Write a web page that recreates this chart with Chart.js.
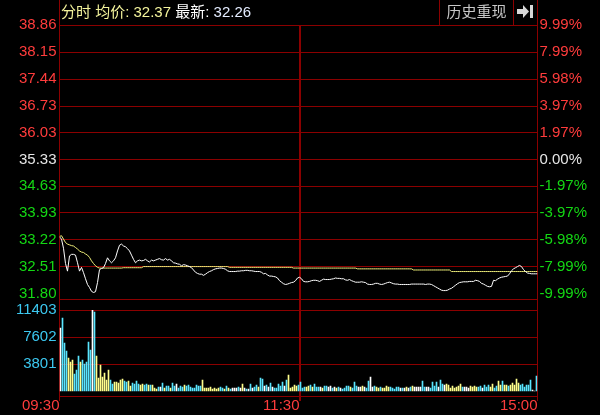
<!DOCTYPE html>
<html lang="zh">
<head>
    <meta charset="UTF-8">
    <title>分时</title>
    <script src="https://cdn.jsdelivr.net/npm/chart.js"></script>
    <style>
        html, body { margin: 0; padding: 0; background: #000; }
        #wrap { position: relative; width: 600px; height: 415px; background: #000; overflow: hidden; }
        #priceChart { position: absolute; left: 0; top: 0; }
        #volChart { position: absolute; left: 0; top: 300px; }
        #header {
            position: absolute; left: 61px; top: 0; height: 25px; line-height: 26px;
            font: 15px "Liberation Sans", "Noto Sans CJK SC", sans-serif; white-space: pre;
        }
        #header .y { color: #f4f49c; }
        #header .w { color: #ffffff; }
        #header .b { color: #e4ecff; }
        #replay {
            position: absolute; left: 439px; top: 0; width: 73px; height: 25px; line-height: 26px;
            border-left: 1px solid #8b0000; border-right: 1px solid #8b0000;
            color: #c8c8c8; text-align: center; font: 15px "Noto Sans CJK SC", sans-serif;
        }
        #toEnd { position: absolute; left: 514px; top: 0; width: 22px; height: 25px; }
    </style>
</head>
<body>
<div id="wrap">
    <canvas id="priceChart" width="600" height="300"></canvas>
    <canvas id="volChart" width="600" height="115"></canvas>
    <div id="header"><span class="y">分时 均价: 32.37</span> <span class="w">最新:</span> <span class="b">32.26</span></div>
    <div id="replay">历史重现</div>
    <svg id="toEnd" viewBox="0 0 22 25">
        <rect x="3" y="9" width="6" height="5" fill="#d8d8d8"/>
        <polygon points="9,5 15,11.5 9,18" fill="#d8d8d8"/>
        <rect x="16" y="5" width="3" height="13" fill="#d8d8d8"/>
    </svg>
</div>
<script>
    // 时间轴 (每分钟一个点, 0 = 09:30)
    const timeTicks = [0, 120, 239];
    const timeLabels = ['09:30', '11:30', '15:00'];

    // 左边价格, 右边涨跌幅
    const priceTicks = [38.86, 38.15, 37.44, 36.73, 36.03, 35.33, 34.63, 33.93, 33.22, 32.51, 31.80];
    const pctLabels = ['9.99%', '7.99%', '5.98%', '3.97%', '1.97%', '0.00%', '-1.97%', '-3.97%', '-5.98%', '-7.99%', '-9.99%'];
    const volTicks = [3801, 7602, 11403];

    // 最新价
    const price = [
        33.30, 33.24, 33.00, 32.60, 32.40, 32.80, 32.84, 32.84, 32.82, 32.62,
        32.40, 32.50, 32.36, 32.20, 32.05, 31.97, 31.87, 31.84, 31.86, 32.10,
        32.44, 32.47, 32.49, 32.60, 32.75, 32.67, 32.62, 32.67, 32.75, 32.93,
        33.08, 33.11, 33.06, 33.04, 32.99, 32.93, 32.82, 32.71, 32.62, 32.67,
        32.69, 32.67, 32.68, 32.71, 32.67, 32.64, 32.69, 32.67, 32.69, 32.71,
        32.73, 32.70, 32.69, 32.73, 32.69, 32.71, 32.67, 32.62, 32.61, 32.59,
        32.58, 32.54, 32.57, 32.56, 32.54, 32.52, 32.49, 32.43, 32.37, 32.34,
        32.32, 32.32, 32.29, 32.32, 32.36, 32.39, 32.41, 32.44, 32.46, 32.47,
        32.48, 32.48, 32.47, 32.45, 32.41, 32.39, 32.39, 32.39, 32.39, 32.40,
        32.40, 32.41, 32.41, 32.42, 32.42, 32.41, 32.41, 32.40, 32.39, 32.39,
        32.39, 32.37, 32.33, 32.34, 32.30, 32.27, 32.27, 32.26, 32.25, 32.22,
        32.15, 32.11, 32.07, 32.05, 32.06, 32.08, 32.10, 32.11, 32.15, 32.22,
        32.24, 32.20, 32.13, 32.12, 32.12, 32.13, 32.15, 32.16, 32.16, 32.15,
        32.13, 32.16, 32.19, 32.18, 32.18, 32.18, 32.19, 32.20, 32.22, 32.21,
        32.21, 32.20, 32.20, 32.17, 32.16, 32.18, 32.15, 32.13, 32.11, 32.11,
        32.11, 32.12, 32.11, 32.10, 32.06, 32.05, 32.05, 32.06, 32.08, 32.08,
        32.06, 32.05, 32.06, 32.08, 32.10, 32.11, 32.09, 32.07, 32.06, 32.06,
        32.05, 32.05, 32.05, 32.05, 32.05, 32.05, 32.06, 32.06, 32.06, 32.06,
        32.06, 32.06, 32.06, 32.05, 32.06, 32.06, 32.05, 32.02, 31.99, 31.96,
        31.93, 31.90, 31.89, 31.89, 31.90, 31.93, 31.95, 31.99, 32.03, 32.07,
        32.10, 32.11, 32.12, 32.12, 32.12, 32.13, 32.13, 32.13, 32.16, 32.15,
        32.13, 32.08, 32.06, 32.03, 32.00, 31.99, 32.00, 32.16, 32.15, 32.19,
        32.22, 32.24, 32.25, 32.26, 32.27, 32.33, 32.41, 32.46, 32.49, 32.52,
        32.55, 32.52, 32.44, 32.39, 32.35, 32.34, 32.33, 32.33, 32.33, 32.33
    ];

    // 均价
    const avgPrice = [
        33.31, 33.33, 33.24, 33.15, 33.11, 33.09, 33.07, 33.06, 33.02, 32.98,
        32.93, 32.90, 32.89, 32.85, 32.82, 32.76, 32.67, 32.60, 32.54, 32.50,
        32.48, 32.48, 32.48, 32.48, 32.48, 32.48, 32.48, 32.48, 32.48, 32.48,
        32.48, 32.48, 32.49, 32.49, 32.49, 32.49, 32.49, 32.49, 32.49, 32.49,
        32.49, 32.49, 32.52, 32.52, 32.52, 32.52, 32.52, 32.52, 32.52, 32.52,
        32.52, 32.52, 32.52, 32.52, 32.52, 32.52, 32.52, 32.52, 32.52, 32.52,
        32.52, 32.52, 32.52, 32.52, 32.52, 32.52, 32.52, 32.52, 32.52, 32.52,
        32.52, 32.52, 32.52, 32.52, 32.52, 32.52, 32.52, 32.52, 32.52, 32.52,
        32.52, 32.52, 32.52, 32.52, 32.52, 32.50, 32.50, 32.50, 32.50, 32.50,
        32.50, 32.50, 32.50, 32.50, 32.50, 32.50, 32.50, 32.50, 32.50, 32.50,
        32.50, 32.50, 32.50, 32.50, 32.50, 32.50, 32.50, 32.50, 32.50, 32.50,
        32.50, 32.50, 32.50, 32.50, 32.50, 32.50, 32.50, 32.48, 32.48, 32.48,
        32.48, 32.48, 32.48, 32.48, 32.48, 32.48, 32.48, 32.48, 32.48, 32.48,
        32.48, 32.48, 32.48, 32.48, 32.48, 32.48, 32.48, 32.48, 32.48, 32.48,
        32.48, 32.48, 32.48, 32.48, 32.48, 32.48, 32.48, 32.48, 32.48, 32.46,
        32.46, 32.46, 32.46, 32.46, 32.46, 32.46, 32.46, 32.46, 32.46, 32.46,
        32.46, 32.46, 32.46, 32.46, 32.46, 32.46, 32.46, 32.46, 32.46, 32.46,
        32.46, 32.46, 32.46, 32.46, 32.46, 32.46, 32.46, 32.43, 32.43, 32.43,
        32.43, 32.43, 32.43, 32.43, 32.43, 32.43, 32.43, 32.43, 32.43, 32.43,
        32.43, 32.43, 32.43, 32.43, 32.43, 32.43, 32.39, 32.39, 32.39, 32.39,
        32.39, 32.39, 32.39, 32.39, 32.39, 32.39, 32.39, 32.39, 32.39, 32.39,
        32.39, 32.39, 32.39, 32.39, 32.39, 32.39, 32.39, 32.39, 32.39, 32.39,
        32.39, 32.39, 32.39, 32.39, 32.39, 32.39, 32.39, 32.39, 32.39, 32.39,
        32.39, 32.39, 32.39, 32.39, 32.39, 32.39, 32.39, 32.39, 32.39, 32.39
    ];

    // 成交量 (每分钟), 上午 119 根 + 下午 120 根
    const volume = [
        8870, 10280, 6760, 5630, 4650, 4080, 4360, 2390, 2960, 4930,
        4080, 4360, 3800, 4080, 6900, 5770, 11403, 11120, 4930, 1830,
        3660, 1970, 2530, 1550, 2960, 1550, 990, 1270, 1270, 1130,
        1550, 1690, 1410, 1270, 1410, 700, 1130, 990, 1410, 990,
        850, 990, 850, 990, 850, 850, 850, 420, 280, 560,
        560, 1130, 420, 700, 700, 420, 1130, 700, 990, 420,
        700, 560, 850, 700, 850, 560, 420, 420, 850, 700,
        700, 1550, 420, 420, 420, 560, 280, 420, 280, 420,
        560, 420, 280, 700, 420, 280, 420, 420, 420, 560,
        420, 990, 420, 280, 280, 990, 420, 560, 850, 560,
        1830, 1690, 700, 850, 560, 1130, 560, 420, 420, 990,
        700, 1270, 700, 1550, 2250, 420, 560, 850, 700,
        850, 1270, 420, 560, 560, 700, 850, 560, 990, 560,
        560, 560, 420, 700, 700, 560, 700, 420, 560, 420,
        560, 420, 280, 420, 700, 700, 560, 420, 1270, 700,
        560, 560, 700, 560, 420, 1410, 1970, 560, 700, 560,
        420, 560, 420, 420, 700, 560, 560, 420, 280, 560,
        560, 420, 420, 420, 560, 420, 560, 700, 560, 560,
        560, 560, 1410, 560, 560, 560, 420, 1270, 700, 1270,
        560, 1550, 990, 850, 990, 850, 420, 700, 420, 560,
        700, 990, 560, 560, 560, 420, 700, 560, 700, 560,
        560, 700, 420, 850, 560, 850, 560, 990, 420, 700,
        1410, 850, 1410, 850, 850, 700, 850, 1130, 850, 1690,
        1130, 850, 990, 560, 850, 850, 1550, 140, 0, 2110
    ];

    // 每根量柱的方向: u 涨, d 跌, f 平
    const volDir = (
        'fddduuuddd' + 'udddddfduu' + 'uuuuudduuu' + 'uudduudddd' + 'uudduduuud' +
        'fdudduddfd' + 'dduddddddd' + 'duuuuuuuuu' + 'ddududfffd' + 'fufdfdfddu' +
        'ddfdfdfddd' + 'ddfduuuuu' +
        'dddduududd' + 'dfuddffdfu' + 'dfdddduddd' + 'ffufddffdu' + 'uduuuudddd' +
        'dfdfufduff' + 'ffddffdddd' + 'fddfuuuuuu' + 'uudfffuuuu' + 'ddfddduudd' +
        'uuduuduuuu' + 'uddddddffd'
    ).split('');

    const gridRed = '#8b0000';
    const labelRed = '#ff3c3c';
    const labelGreen = '#14d814';
    const labelWhite = '#e6e6e6';
    const dirColor = { u: '#ffff8c', d: '#5ae6ff', f: '#ffffff' };
    const tickFont = { family: '"Liberation Sans", Arial, sans-serif', size: 15 };

    const priceSpan = priceTicks[0] - priceTicks[priceTicks.length - 1];
    const priceMin = priceTicks[priceTicks.length - 1] - priceSpan * 5 / 269;
    const volMin = -volTicks[volTicks.length - 1] * 5 / 81;

    function fixSize(w, h) {
        return function(scale) {
            if (w !== null) scale.width = w;
            if (h !== null) scale.height = h;
            scale.paddingLeft = scale.paddingRight = scale.paddingTop = scale.paddingBottom = 0;
        };
    }

    function colorByRow(ctx) {
        if (ctx.index < 5) return labelRed;
        if (ctx.index === 5) return labelWhite;
        return labelGreen;
    }

    // 补画图区外的竖线 (表头和两图之间的空隙)
    const frameLines = {
        id: 'frameLines',
        afterDraw(chart, args, opts) {
            const ctx = chart.ctx;
            const area = chart.chartArea;
            const xs = chart.scales.x;
            function line(v, y1, y2) {
                const w = v === timeTicks[1] ? 2 : 1;
                const px = Math.round(xs.getPixelForValue(v) - w / 2) + w / 2;
                ctx.lineWidth = w;
                ctx.beginPath();
                ctx.moveTo(px, y1);
                ctx.lineTo(px, y2);
                ctx.stroke();
            }
            ctx.save();
            ctx.strokeStyle = gridRed;
            (opts.top || []).forEach(v => line(v, 0, area.top));
            (opts.bottom || []).forEach(v => line(v, area.bottom, chart.height));
            ctx.restore();
        }
    };

    // 分时价格图
    new Chart(document.getElementById('priceChart'), {
        type: 'line',
        data: {
            datasets: [
                {
                    label: '最新',
                    data: price.map((v, i) => ({ x: i, y: v })),
                    borderColor: '#ffffff',
                    borderWidth: 1,
                    pointRadius: 0,
                    tension: 0
                },
                {
                    label: '均价',
                    data: avgPrice.map((v, i) => ({ x: i, y: v })),
                    borderColor: '#ecec78',
                    borderWidth: 1,
                    pointRadius: 0,
                    tension: 0
                }
            ]
        },
        options: {
            responsive: false,
            animation: false,
            layout: { padding: { top: 25, bottom: 1, left: 0.5, right: 0 } },
            plugins: {
                legend: { display: false },
                tooltip: { enabled: false },
                frameLines: { top: [timeTicks[0], timeTicks[2]], bottom: timeTicks }
            },
            scales: {
                x: {
                    type: 'linear',
                    min: timeTicks[0],
                    max: timeTicks[2],
                    afterBuildTicks: s => { s.ticks = timeTicks.map(v => ({ value: v })); },
                    afterFit: fixSize(null, 0),
                    ticks: { display: false, autoSkip: false },
                    grid: {
                        offset: false,
                        color: gridRed,
                        lineWidth: ctx => (ctx.tick && ctx.tick.value === timeTicks[1]) ? 2 : 1,
                        drawTicks: false
                    },
                    border: { color: gridRed }
                },
                y: {
                    position: 'left',
                    min: priceMin,
                    max: priceTicks[0],
                    afterBuildTicks: s => { s.ticks = priceTicks.map(v => ({ value: v })); },
                    afterFit: fixSize(59, null),
                    ticks: {
                        autoSkip: false,
                        padding: 3,
                        font: tickFont,
                        color: colorByRow,
                        callback: (v, i) => priceTicks[i].toFixed(2)
                    },
                    grid: {
                        drawTicks: false,
                        color: ctx => (ctx.tick && ctx.tick.value === priceTicks[priceTicks.length - 1]) ? 'rgba(0,0,0,0)' : gridRed
                    },
                    border: { color: gridRed }
                },
                y2: {
                    position: 'right',
                    min: priceMin,
                    max: priceTicks[0],
                    afterBuildTicks: s => { s.ticks = priceTicks.map(v => ({ value: v })); },
                    afterFit: fixSize(62.5, null),
                    ticks: {
                        autoSkip: false,
                        padding: 2,
                        font: tickFont,
                        color: colorByRow,
                        callback: (v, i) => pctLabels[i]
                    },
                    grid: { display: false, drawTicks: false },
                    border: { color: gridRed }
                }
            }
        },
        plugins: [frameLines]
    });

    // 成交量图
    new Chart(document.getElementById('volChart'), {
        type: 'bar',
        data: {
            datasets: [{
                label: '成交量',
                data: volume.map((v, i) => ({ x: i + 0.5, y: v })),
                backgroundColor: volDir.map(d => dirColor[d]),
                barThickness: 1,
                borderWidth: 0
            }]
        },
        options: {
            responsive: false,
            animation: false,
            layout: { padding: { top: 10, bottom: 0, left: 0.5, right: 0 } },
            plugins: {
                legend: { display: false },
                tooltip: { enabled: false },
                frameLines: { top: timeTicks }
            },
            scales: {
                x: {
                    type: 'linear',
                    offset: false,
                    min: timeTicks[0],
                    max: timeTicks[2],
                    afterBuildTicks: s => { s.ticks = timeTicks.map(v => ({ value: v })); },
                    afterFit: fixSize(null, 19),
                    ticks: {
                        autoSkip: false,
                        maxRotation: 0,
                        align: 'end',
                        padding: -4,
                        color: labelRed,
                        font: tickFont,
                        callback: (v, i) => timeLabels[i]
                    },
                    grid: {
                        offset: false,
                        color: gridRed,
                        lineWidth: ctx => (ctx.tick && ctx.tick.value === timeTicks[1]) ? 2 : 1,
                        tickLength: 5
                    },
                    border: { color: gridRed }
                },
                y: {
                    position: 'left',
                    min: volMin,
                    max: volTicks[volTicks.length - 1],
                    afterBuildTicks: s => { s.ticks = volTicks.map(v => ({ value: v })); },
                    afterFit: fixSize(59, null),
                    ticks: {
                        autoSkip: false,
                        padding: 3,
                        font: tickFont,
                        color: '#3cc8f0',
                        callback: (v, i) => String(volTicks[i])
                    },
                    grid: { color: gridRed, drawTicks: false },
                    border: { color: gridRed }
                },
                y2: {
                    position: 'right',
                    min: volMin,
                    max: volTicks[volTicks.length - 1],
                    afterFit: fixSize(62.5, null),
                    ticks: { display: false },
                    grid: { display: false, drawTicks: false },
                    border: { color: gridRed }
                }
            }
        },
        plugins: [frameLines]
    });
</script>
</body>
</html>
